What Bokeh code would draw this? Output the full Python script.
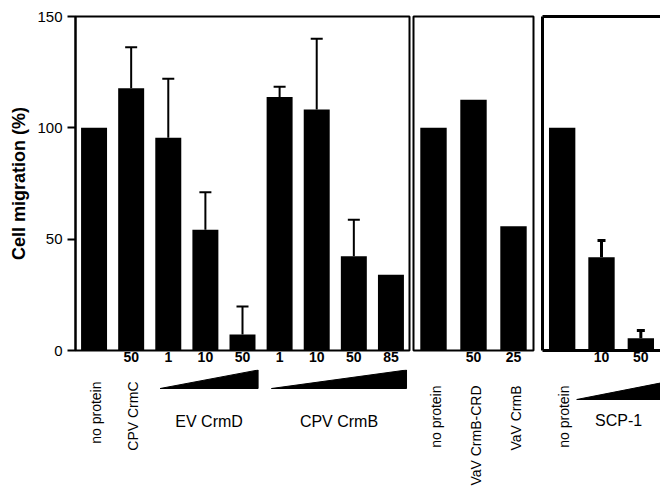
import numpy as np
from bokeh.plotting import figure
from bokeh.models import Range1d, FixedTicker, Whisker, TeeHead, ColumnDataSource, LinearAxis
from bokeh.layouts import column, row
from bokeh.embed import file_html
from bokeh.resources import INLINE
from bokeh.core.properties import value

FONT = "Liberation Sans"
nan = np.nan

# ---------------- data ----------------
y_ticks = [0, 50, 100, 150]
y_label = "Cell migration (%)"

p1_cats = ["no protein", "CPV CrmC 50", "EV CrmD 1", "EV CrmD 10", "EV CrmD 50",
           "CPV CrmB 1", "CPV CrmB 10", "CPV CrmB 50", "CPV CrmB 85"]
p1_labels = ["no protein", "CPV CrmC", "", "", "", "", "", "", ""]
p1_conc = ["", "50", "1", "10", "50", "1", "10", "50", "85"]
p1_groups = ["", "", "EV CrmD", "EV CrmD", "EV CrmD",
             "CPV CrmB", "CPV CrmB", "CPV CrmB", "CPV CrmB"]
p1_values = [100, 117.8, 95.5, 54.2, 7.2, 113.9, 108.2, 42.3, 34.0]
p1_err_upper = [nan, 136.2, 122.0, 71.1, 19.8, 118.5, 140.0, 58.7, nan]

p2_cats = ["no protein", "VaV CrmB-CRD 50", "VaV CrmB 25"]
p2_labels = ["no protein", "VaV CrmB-CRD", "VaV CrmB"]
p2_conc = ["", "50", "25"]
p2_groups = ["", "", ""]
p2_values = [100, 112.6, 55.8]
p2_err_upper = [nan, nan, nan]

p3_cats = ["no protein", "SCP-1 10", "SCP-1 50"]
p3_labels = ["no protein", "", ""]
p3_conc = ["", "10", "50"]
p3_groups = ["", "SCP-1", "SCP-1"]
p3_values = [100, 41.9, 5.5]
p3_err_upper = [nan, 49.4, 9.0]

BORDER_TOP = 16
FRAME_H = 334
BORDER_BOT = 19
TOP_H = BORDER_TOP + FRAME_H + BORDER_BOT
BOT_H = 487 - TOP_H


def style_conc_axis(ax, x, conc, line_w):
    ax.ticker = FixedTicker(ticks=[float(v) for v in x])
    ax.major_label_overrides = {float(v): c for v, c in zip(x, conc)}
    ax.major_tick_out = 0
    ax.major_tick_in = 0
    ax.minor_tick_out = 0
    ax.minor_tick_in = 0
    ax.major_label_standoff = 1
    ax.major_label_text_font = FONT
    ax.major_label_text_font_size = "14px"
    ax.major_label_text_font_style = "bold"
    ax.major_label_text_color = "black"
    if line_w:
        ax.axis_line_width = line_w
        ax.axis_line_color = "black"
    else:
        ax.axis_line_color = None


def make_panel(cats, labels, conc, groups, values, err, cfg):
    n = len(cats)
    x = np.arange(n) + 0.5
    xr = Range1d(0, cfg["x_end"])
    width = cfg["bl"] + cfg["fw"] + cfg["br"]
    p = figure(width=width, height=TOP_H, x_range=xr, y_range=Range1d(0, 150),
               x_axis_type=None if cfg["open_right"] else "linear",
               y_axis_type="linear" if cfg["yaxis"] else None,
               output_backend="svg", toolbar_location=None,
               min_border_left=cfg["bl"], min_border_right=cfg["br"],
               min_border_top=BORDER_TOP, min_border_bottom=BORDER_BOT)
    p.background_fill_color = "white"
    p.border_fill_color = "white"
    if cfg["yaxis"]:
        ax = p.yaxis[0]
        ax.ticker = FixedTicker(ticks=y_ticks)
        ax.major_tick_out = 8
        ax.major_tick_in = 0
        ax.minor_tick_out = 0
        ax.minor_tick_in = 0
        ax.axis_line_width = 2
        ax.major_tick_line_width = 2
        ax.major_label_text_font = FONT
        ax.major_label_text_font_size = "15px"
        ax.major_label_text_color = "black"
        ax.major_label_standoff = 5
        ax.axis_label = y_label
        ax.axis_label_text_font = FONT
        ax.axis_label_text_font_size = "18px"
        ax.axis_label_text_font_style = "bold"
        ax.axis_label_text_color = "black"
        ax.axis_label_standoff = 5
    if cfg["open_right"]:
        p.outline_line_color = None
        for loc in ["left", "above"]:
            a = LinearAxis(ticker=FixedTicker(ticks=[]), axis_line_width=cfg["frame_lw"],
                           axis_line_color="black", major_tick_out=0, major_tick_in=0,
                           minor_tick_out=0, minor_tick_in=0,
                           major_label_text_font_size="0px", major_label_standoff=0)
            p.add_layout(a, loc)
        bax = LinearAxis()
        style_conc_axis(bax, x, conc, cfg["frame_lw"])
        p.add_layout(bax, "below")
    else:
        p.outline_line_color = "black"
        p.outline_line_width = cfg["frame_lw"]
        p.outline_line_alpha = 1.0
        style_conc_axis(p.xaxis[0], x, conc, None)
    p.xgrid.visible = False
    p.ygrid.visible = False

    src = ColumnDataSource(dict(x=x, top=values, cat=cats))
    p.vbar(x="x", top="top", bottom=0, width=cfg["bw"], source=src,
           fill_color="black", line_color=None)

    err = np.array(err, dtype=float)
    mask = ~np.isnan(err)
    if mask.any():
        wsrc = ColumnDataSource(dict(base=x[mask], lower=np.array(values, dtype=float)[mask],
                                     upper=err[mask]))
        w = Whisker(base="base", lower="lower", upper="upper", source=wsrc,
                    line_width=cfg["elw"], line_color="black",
                    upper_head=TeeHead(size=cfg["tee"], line_width=cfg["elw"], line_color="black"),
                    lower_head=None)
        p.add_layout(w)

    # ------------- label strip below -------------
    q = figure(width=width, height=BOT_H, x_range=xr, y_range=Range1d(BOT_H, 0),
               x_axis_type=None, y_axis_type=None,
               output_backend="svg", toolbar_location=None,
               min_border_left=cfg["bl"], min_border_right=cfg["br"],
               min_border_top=0, min_border_bottom=0)
    q.outline_line_color = None
    q.background_fill_color = "white"
    q.border_fill_color = "white"

    lsrc = ColumnDataSource(dict(x=x, y=[cfg["lab_y"]] * n, t=labels))
    q.text(x="x", y="y", text="t", source=lsrc, angle=np.pi / 2, x_offset=2,
           text_font=value(FONT), text_font_size="14px", text_align="right",
           text_baseline="middle", text_color="black")

    names = []
    for g in groups:
        if g and g not in names:
            names.append(g)
    xs, ys, gx, gy, gt = [], [], [], [], []
    for g in names:
        idx = [i for i, gg in enumerate(groups) if gg == g]
        left = x[idx[0]] - cfg["tri_a"]
        right = min(x[idx[-1]] + cfg["tri_b"], cfg["x_end"])
        xs.append([left, right, right])
        ys.append([cfg["tri_bot"], cfg["tri_bot"], cfg["tri_top"]])
        gx.append((left + right) / 2)
        gy.append(cfg["grp_y"])
        gt.append(g)
    if names:
        q.patches(xs=xs, ys=ys, fill_color="black", line_color="black", line_width=1)
        q.text(x=gx, y=gy, text=gt, text_font=value(FONT), text_font_size="16px",
               text_align="center", text_baseline="middle", text_color="black")
    return p, q


cfg1 = dict(x_end=9, bl=75, fw=334, br=2, yaxis=True, open_right=False, frame_lw=2,
            bw=0.70, elw=2, tee=12, lab_y=12, tri_a=0.22, tri_b=0.42,
            tri_bot=19, tri_top=0.5, grp_y=52)
cfg2 = dict(x_end=3, bl=2, fw=120, br=4, yaxis=False, open_right=False, frame_lw=2,
            bw=0.66, elw=2, tee=12, lab_y=16, tri_a=0.2, tri_b=0.4,
            tri_bot=19, tri_top=0.5, grp_y=52)
cfg3 = dict(x_end=3.0, bl=5, fw=118, br=0, yaxis=False, open_right=True, frame_lw=3,
            bw=0.67, elw=3, tee=8, lab_y=16, tri_a=0.63, tri_b=5,
            tri_bot=30, tri_top=13.5, grp_y=51)

p1, q1 = make_panel(p1_cats, p1_labels, p1_conc, p1_groups, p1_values, p1_err_upper, cfg1)
p2, q2 = make_panel(p2_cats, p2_labels, p2_conc, p2_groups, p2_values, p2_err_upper, cfg2)
p3, q3 = make_panel(p3_cats, p3_labels, p3_conc, p3_groups, p3_values, p3_err_upper, cfg3)

layout = column(row(p1, p2, p3), row(q1, q2, q3))

open("out.html", "w").write(file_html(layout, INLINE))
